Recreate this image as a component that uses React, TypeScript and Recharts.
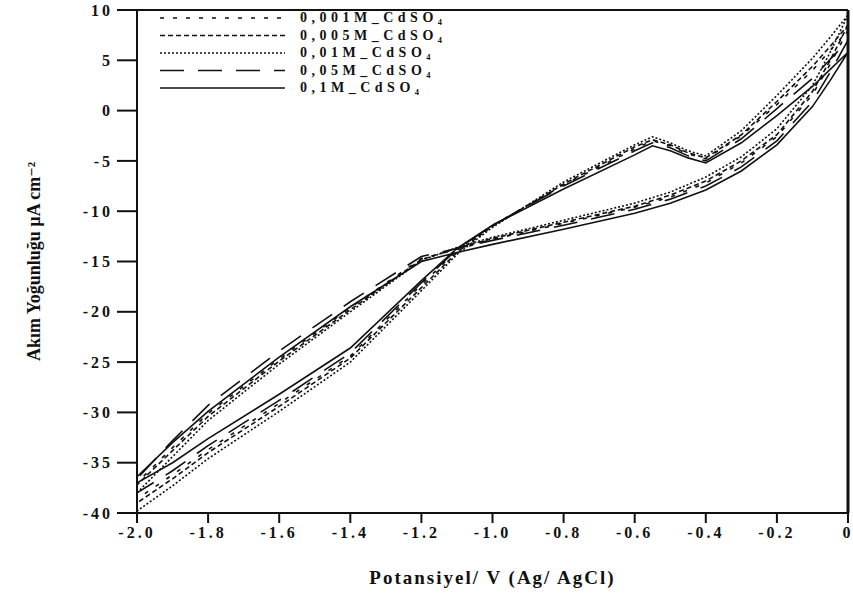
import { LineChart, Line, XAxis, YAxis, ReferenceLine } from 'recharts';

// potential steps: cathodic scan 0 -> -2.0 V, then anodic back to 0
const scanCathodic = [0, -0.05, -0.1, -0.2, -0.3, -0.4, -0.5, -0.6, -0.8, -1.0, -1.1, -1.2, -1.4, -1.6, -1.8, -1.9, -2.0];
const scanAnodic = [-2.0, -1.9, -1.8, -1.6, -1.4, -1.2, -1.1, -1.0, -0.8, -0.6, -0.55, -0.5, -0.45, -0.4, -0.3, -0.2, -0.1, -0.05, 0];

// current density (µA cm⁻²)
const cath0001 = [8.0, 4.6, 1.6, -2.6, -5.2, -7.2, -8.6, -9.6, -11.2, -12.8, -13.8, -14.7, -19.6, -24.7, -30.1, -33.5, -37.0];
const anod0001 = [-38.6, -36.2, -33.7, -29.1, -24.4, -17.3, -13.9, -11.4, -7.4, -3.8, -3.0, -3.5, -4.3, -4.8, -2.5, 0.6, 4.0, 6.0, 8.0];

const cath0005 = [8.5, 5.0, 1.9, -2.4, -5.0, -7.0, -8.4, -9.5, -11.1, -12.7, -13.7, -14.8, -19.8, -24.9, -30.4, -33.8, -37.2];
const anod0005 = [-39.0, -36.6, -34.0, -29.4, -24.6, -17.6, -14.1, -11.5, -7.3, -3.6, -2.9, -3.4, -4.2, -4.7, -2.4, 0.9, 4.4, 6.4, 8.5];

const cath001 = [9.5, 5.8, 2.5, -1.8, -4.6, -6.6, -8.1, -9.2, -10.9, -12.6, -13.6, -14.9, -20.0, -25.2, -30.8, -34.4, -38.0];
const anod001 = [-39.8, -37.3, -34.6, -29.9, -25.0, -17.9, -14.3, -11.6, -7.1, -3.4, -2.6, -3.2, -4.0, -4.5, -2.0, 1.5, 5.2, 7.3, 9.5];

const cath005 = [7.0, 3.8, 0.9, -3.0, -5.6, -7.5, -8.8, -9.8, -11.4, -12.9, -13.7, -14.5, -19.0, -23.9, -29.3, -32.8, -36.6];
const anod005 = [-38.0, -35.8, -33.3, -28.8, -24.1, -17.1, -13.8, -11.4, -7.5, -4.0, -3.2, -3.7, -4.5, -5.0, -2.8, 0.2, 3.2, 5.1, 7.0];

const cath01 = [5.8, 3.0, 0.4, -3.4, -6.0, -7.9, -9.2, -10.2, -11.8, -13.3, -14.1, -15.0, -19.5, -24.5, -29.9, -33.0, -36.4];
const anod01 = [-37.0, -35.0, -32.6, -28.2, -23.6, -16.9, -13.7, -11.4, -7.8, -4.4, -3.5, -4.0, -4.7, -5.2, -3.2, -0.5, 2.4, 4.1, 5.8];

const seriesNames = ['0,001M_CdSO₄', '0,005M_CdSO₄', '0,01M_CdSO₄', '0,05M_CdSO₄', '0,1M_CdSO₄'];

const xTicks = [-2.0, -1.8, -1.6, -1.4, -1.2, -1.0, -0.8, -0.6, -0.4, -0.2, 0];
const yTicks = [10, 5, 0, -5, -10, -15, -20, -25, -30, -35, -40];

const serif = '"Liberation Serif", "DejaVu Serif", serif';
const ink = '#111';

function buildLoop(cath: number[], anod: number[]) {
  return [
    ...scanCathodic.map((v, k) => ({ v, i: cath[k] })),
    ...scanAnodic.map((v, k) => ({ v, i: anod[k] })),
  ];
}

const series = [
  { name: seriesNames[0], data: buildLoop(cath0001, anod0001), dash: '4 9' },
  { name: seriesNames[1], data: buildLoop(cath0005, anod0005), dash: '5 3' },
  { name: seriesNames[2], data: buildLoop(cath001, anod001), dash: '2 2' },
  { name: seriesNames[3], data: buildLoop(cath005, anod005), dash: '24 14' },
  { name: seriesNames[4], data: buildLoop(cath01, anod01), dash: undefined },
];

function CdLegend() {
  return (
    <svg width={320} height={95} style={{ position: 'absolute', left: 160, top: 8 }}>
      {series.map((s, k) => {
        const y = 10 + k * 17.5;
        return (
          <g key={s.name}>
            <line x1={0} x2={125} y1={y} y2={y} stroke={ink} strokeWidth={1.6} strokeDasharray={s.dash} />
            <text x={140} y={y + 4} fontFamily={serif} fontWeight="bold" fontSize={14} fill={ink} style={{ letterSpacing: 4.5 }}>
              {s.name}
            </text>
          </g>
        );
      })}
    </svg>
  );
}

const tickStyle = { fontFamily: serif, fontWeight: 'bold', fontSize: 16, fill: ink, letterSpacing: 3 };

export default function App() {
  return (
    // pinned to the page corner so the top "10" and right "0" labels are not clipped
    <div style={{ position: 'absolute', left: 0, top: 0, width: 853, height: 593 }}>
      <LineChart width={853} height={593} margin={{ top: 10, right: 5, bottom: 0, left: 8 }}>
        <XAxis
          type="number"
          dataKey="v"
          domain={[-2, 0]}
          ticks={xTicks}
          interval={0}
          allowDataOverflow
          tickFormatter={(v: number) => (v === 0 ? '0' : v.toFixed(1))}
          height={80}
          stroke={ink}
          strokeWidth={2}
          tickSize={10}
          tickMargin={4}
          tick={tickStyle}
          label={{
            value: 'Potansiyel/ V (Ag/ AgCl)',
            position: 'insideBottom',
            offset: 9,
            style: { fontFamily: serif, fontWeight: 'bold', fontSize: 19, fill: ink, letterSpacing: 2 },
          }}
        />
        <YAxis
          type="number"
          domain={[-40, 10]}
          ticks={yTicks}
          interval={0}
          allowDataOverflow
          width={129}
          stroke={ink}
          strokeWidth={2}
          tickSize={20}
          tickMargin={4}
          tick={tickStyle}
          label={{
            value: 'Akım Yoğunluğu µA cm⁻²',
            angle: -90,
            position: 'insideLeft',
            offset: 26,
            style: { textAnchor: 'middle', fontFamily: serif, fontWeight: 'bold', fontSize: 18, fill: ink },
          }}
        />
        <ReferenceLine y={10} stroke={ink} strokeWidth={2} />
        <ReferenceLine x={0} stroke={ink} strokeWidth={3} />
        {series.map((s) => (
          <Line
            key={s.name}
            data={s.data}
            dataKey="i"
            name={s.name}
            type="linear"
            stroke={ink}
            strokeWidth={1.6}
            strokeDasharray={s.dash}
            dot={false}
            activeDot={false}
            isAnimationActive={false}
          />
        ))}
      </LineChart>
      <CdLegend />
    </div>
  );
}
